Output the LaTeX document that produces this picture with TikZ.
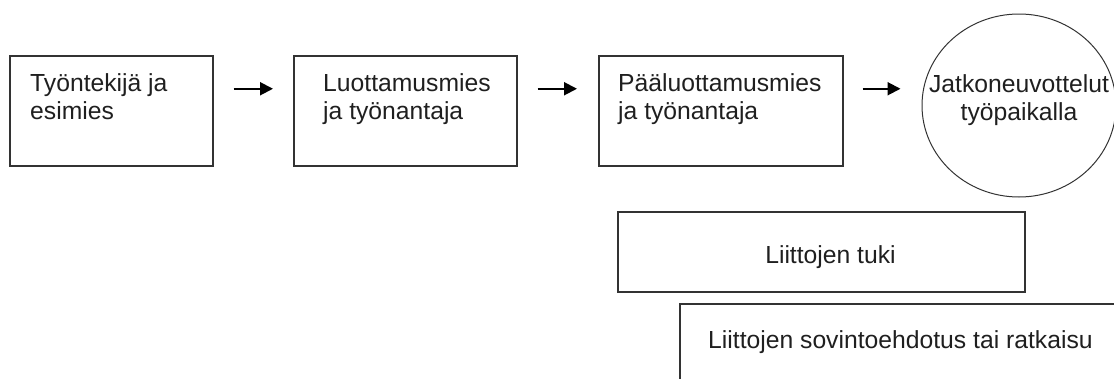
\documentclass[tikz,border=0pt]{standalone}
\usepackage{fontspec}
\setmainfont{Liberation Sans}
\usetikzlibrary{arrows.meta}
\tikzset{
  box/.style={draw=black!80, line width=1.5pt, rectangle, inner sep=0pt},
  oval/.style={draw=black!80, line width=1pt, ellipse, inner sep=0pt},
  txt/.style={inner sep=0pt, text=black!88, font=\fontsize{24.7}{28}\selectfont, align=left},
  arr/.style={draw=black, line width=2pt, -{Triangle[length=13pt,width=13pt]}}
}
\usetikzlibrary{shapes.geometric}
\begin{document}
\begin{tikzpicture}[x=1pt,y=-1pt]
\useasboundingbox (0,0) rectangle (1114,378);
% boxes
\node[box, minimum width=203pt, minimum height=110pt, anchor=north west] (b1) at (9,55) {};
\node[box, minimum width=223pt, minimum height=110pt, anchor=north west] (b2) at (293,55) {};
\node[box, minimum width=244pt, minimum height=110pt, anchor=north west] (b3) at (598,55) {};
\node[oval, minimum width=194pt, minimum height=183pt] (c) at (1019,105.5) {};
\node[box, minimum width=407pt, minimum height=80pt, anchor=north west] (b5) at (617,211) {};
\node[box, minimum width=470pt, minimum height=110pt, anchor=north west] (b6) at (679,303) {};
% texts (base anchor = baseline of the last line)
\node[txt, anchor=base west] (t1) at (30,119) {Työntekijä ja\\esimies};
\node[txt, anchor=base west] (t2) at (323,119) {Luottamusmies\\ja työnantaja};
\node[txt, anchor=base west] (t3) at (618,119) {Pääluottamusmies\\ja työnantaja};
\node[txt, anchor=base, align=center] (t4) at (1019,120) {Jatkoneuvottelut\\työpaikalla};
\node[txt, anchor=base] (t5) at (830.5,263) {Liittojen tuki};
\node[txt, anchor=base west] (t6) at (708,348) {Liittojen sovintoehdotus tai ratkaisu};
% arrows
\draw[arr, shorten <=20pt, shorten >=20pt] ([yshift=22pt]b1.east) -- ([yshift=22pt]b2.west);
\draw[arr, shorten <=20pt, shorten >=21pt] ([yshift=22pt]b2.east) -- ([yshift=22pt]b3.west);
\draw[arr, shorten <=19pt, shorten >=21pt] ([yshift=22pt]b3.east) -- ([yshift=22pt]b3.east -| c.west);
\end{tikzpicture}
\end{document}
